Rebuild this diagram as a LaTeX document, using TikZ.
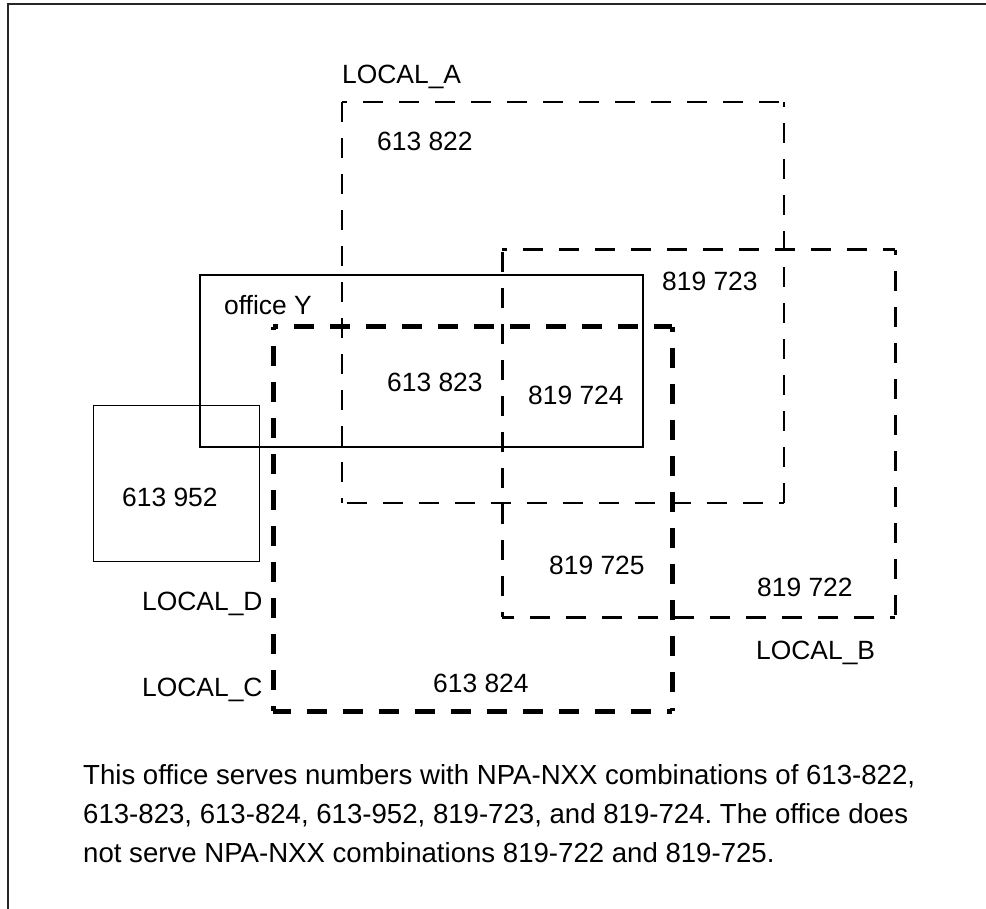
\documentclass[tikz,border=0pt]{standalone}
\usepackage{fontspec}
\setmainfont{Liberation Sans}
\frenchspacing
\begin{document}
\begin{tikzpicture}[x=1pt,y=-1pt,
  region/.style={draw=none,inner sep=0pt,outer sep=0pt,rectangle},
  dpat/.style={dash pattern=on 20pt off 16pt, dash phase=15pt},
  edgeA/.style={dpat,line width=1.6pt},
  edgeB/.style={dpat,line width=3pt},
  edgeC/.style={dpat,line width=5pt},
  officebox/.style={draw,line width=1.8pt,inner sep=0pt,outer sep=0pt,rectangle},
  smallbox/.style={draw,line width=1pt,inner sep=0pt,outer sep=0pt,rectangle},
  lbl/.style={inner sep=0pt,anchor=west,font=\fontsize{26.4}{30}\selectfont},
  para/.style={inner sep=0pt,anchor=base west,font=\fontsize{27.6}{32}\selectfont}]
\useasboundingbox (0,0) rectangle (986,909);
% frame
\coordinate (f1) at (986,4);
\coordinate (f2) at (8,4);
\coordinate (f3) at (8,909);
\draw[line width=1.5pt,black!85] (f1) -- (f2) -- (f3);
% regions
\node[region,minimum width=442pt,minimum height=401pt] (A) at (563,302.5) {};
\node[region,minimum width=393pt,minimum height=367pt] (B) at (698.5,433.5) {};
\node[region,minimum width=399pt,minimum height=384pt] (C) at (472.5,519) {};
\node[officebox,minimum width=443pt,minimum height=172pt] (Y) at (421.5,361) {};
\node[smallbox,minimum width=166pt,minimum height=155pt] (D) at (176,483.5) {};
% dashed edges
\foreach \r/\s in {A/edgeA,B/edgeB,C/edgeC}{
  \draw[\s] (\r.north west) -- (\r.north east);
  \draw[\s] (\r.north east) -- (\r.south east);
  \draw[\s] (\r.south east) -- (\r.south west);
  \draw[\s] (\r.south west) -- (\r.north west);
}
% labels
\node[lbl] (la) at (342,77) {LOCAL\_A};
\node[lbl] (t822) at (377,141) {613 822};
\node[lbl] (t723) at (662,281) {819 723};
\node[lbl] (toy) at (224,305) {office Y};
\node[lbl] (t823) at (387,382) {613 823};
\node[lbl] (t724) at (528,395) {819 724};
\node[lbl] (t952) at (122,497) {613 952};
\node[lbl] (t725) at (549,565) {819 725};
\node[lbl] (ld) at (142,604) {LOCAL\_D};
\node[lbl] (t722) at (757,587) {819 722};
\node[lbl] (lb) at (756,653) {LOCAL\_B};
\node[lbl] (lc) at (142,690) {LOCAL\_C};
\node[lbl] (t824) at (433,683) {613 824};
% paragraph
\node[para] (p1) at (83,784) {This office serves numbers with NPA-NXX combinations of 613-822,};
\node[para] (p2) at (83,823) {613-823, 613-824, 613-952, 819-723, and 819-724. The office does};
\node[para] (p3) at (83,862) {not serve NPA-NXX combinations 819-722 and 819-725.};
\end{tikzpicture}
\end{document}
